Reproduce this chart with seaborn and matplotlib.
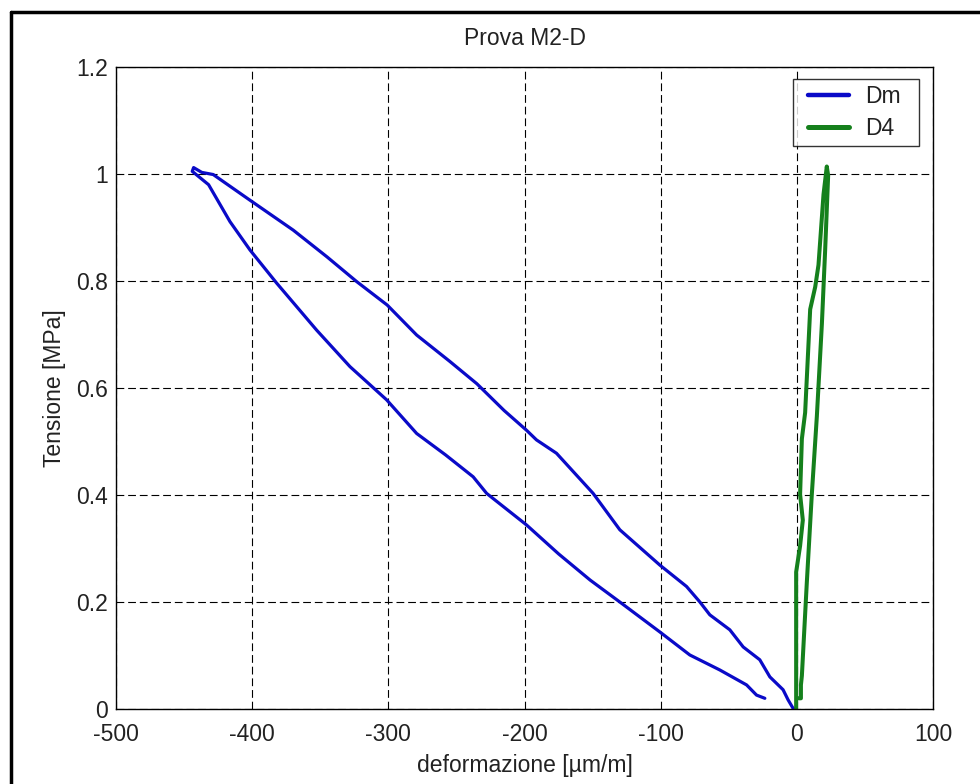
import numpy as np
import pandas as pd
import seaborn as sns
import matplotlib
matplotlib.use("Agg")
import matplotlib.pyplot as plt
from matplotlib.lines import Line2D
from matplotlib.legend_handler import HandlerLine2D
from matplotlib.ticker import FuncFormatter

# ---- data ----
dm_strain = [-1, -2.7, -6.4, -10.1, -19.8, -27.2, -39.4, -49.2, -63.9, -71.2, -81.0,
             -100.6, -130.0, -149.6, -176.5, -191.2, -198.5, -215, -235, -255, -279.2,
             -300.8, -323.3, -345, -369.8, -401.6, -428.6, -437, -443,
             -444, -432, -416.3, -401.6, -382.0, -352.6, -328.2, -301.3, -279.2,
             -258, -237.7, -227.8, -198.5, -175, -151.8, -130.0, -100.6, -78.6,
             -56.6, -36.9, -29.6, -23.5]
dm_stress = [0.0, 0.001, 0.017, 0.036, 0.060, 0.092, 0.116, 0.148, 0.176, 0.200, 0.229,
             0.269, 0.335, 0.403, 0.478, 0.503, 0.521, 0.558, 0.608, 0.650, 0.699,
             0.755, 0.799, 0.845, 0.895, 0.951, 0.999, 1.003, 1.012,
             1.005, 0.98, 0.911, 0.858, 0.796, 0.708, 0.640, 0.578, 0.515,
             0.475, 0.434, 0.403, 0.344, 0.290, 0.241, 0.200, 0.144, 0.101,
             0.073, 0.045, 0.026, 0.020]

d4_strain = [-0.5, -0.5, 2.4, 4.4, 2.4, 3.7, 6.1, 9.8, 13.5, 15.9, 19.6, 22.0,
             23.0, 20.8, 18.4, 14.7, 11.0, 7.3, 3.7, 3.0, 3.0, 1.5]
d4_stress = [0.0, 0.256, 0.305, 0.353, 0.401, 0.505, 0.554, 0.747, 0.789, 0.830, 0.962, 1.014,
             0.997, 0.858, 0.720, 0.547, 0.401, 0.235, 0.062, 0.045, 0.020, 0.020]

series_names = ["Dm", "D4"]
x_ticks = [-500, -400, -300, -200, -100, 0, 100]
y_ticks = [0, 0.2, 0.4, 0.6, 0.8, 1.0, 1.2]

title_text = "Prova M2-D"
x_label = "deformazione [\u00b5m/m]"
y_label = "Tensione [MPa]"

# ---- styling ----
sns.set_theme(style="white")
plt.rcParams["font.family"] = ["Liberation Sans", "DejaVu Sans"]
FS = 16.5

fig = plt.figure(figsize=(9.8, 7.84), dpi=100)
ax = fig.add_axes([116 / 980, 75 / 784, 817 / 980, 642 / 784])

df_dm = pd.DataFrame({"x": dm_strain, "y": dm_stress, "serie": series_names[0]})
df_d4 = pd.DataFrame({"x": d4_strain, "y": d4_stress, "serie": series_names[1]})

blue = "#0a0ac8"
green = "#15801c"
sns.lineplot(data=df_dm, x="x", y="y", sort=False, estimator=None, ax=ax,
             color=blue, linewidth=2.3, legend=False)
sns.lineplot(data=df_d4, x="x", y="y", sort=False, estimator=None, ax=ax,
             color=green, linewidth=2.9, legend=False)

ax.set_xlim(-500, 100)
ax.set_ylim(0, 1.2)
ax.set_xticks(x_ticks)
ax.set_yticks(y_ticks)
ax.xaxis.set_major_formatter(FuncFormatter(lambda v, p: f"{v:g}"))
ax.yaxis.set_major_formatter(FuncFormatter(lambda v, p: f"{v:g}"))

ax.grid(True, color="black", linestyle=(0, (7, 3.5)), linewidth=0.8)
for s in ax.spines.values():
    s.set_visible(True)
    s.set_color("black")
    s.set_linewidth(1.0)

ax.tick_params(axis="both", direction="in", length=5, width=0.8, colors="black",
               labelsize=FS, labelcolor="#222222")
ax.tick_params(axis="x", pad=10)
ax.tick_params(axis="y", pad=6)

ax.set_title(title_text, fontsize=FS, color="#222222", pad=16)
ax.set_xlabel(x_label, fontsize=FS, color="#222222", labelpad=6)
ax.set_ylabel(y_label, fontsize=FS, color="#222222", labelpad=7)

handles = [Line2D([0], [0], color=blue, lw=3.2), Line2D([0], [0], color=green, lw=3.6)]
hmap = {h: HandlerLine2D(xpad=0.4) for h in handles}
x0 = (793 - 116) / 817
w = 126 / 817
leg = ax.legend(handles, series_names, loc="upper right",
                bbox_to_anchor=(x0, 0.9, w, 0.081), mode="expand", borderaxespad=0,
                handler_map=hmap,
                fontsize=FS, frameon=True, fancybox=False,
                handlelength=2.2, handletextpad=0.7, labelspacing=0.4,
                borderpad=0.25)
leg.get_frame().set_edgecolor("black")
leg.get_frame().set_linewidth(1.0)
for t in leg.get_texts():
    t.set_color("#222222")

# outer frame (left and top edges visible in the reference)
fig.add_artist(Line2D([11 / 980, 11 / 980], [0, 1 - 12 / 784], color="black", lw=2.5,
                      transform=fig.transFigure))
fig.add_artist(Line2D([11 / 980, 1], [1 - 12 / 784, 1 - 12 / 784], color="black", lw=2.5,
                      transform=fig.transFigure))

fig.savefig("out.png", dpi=100)
